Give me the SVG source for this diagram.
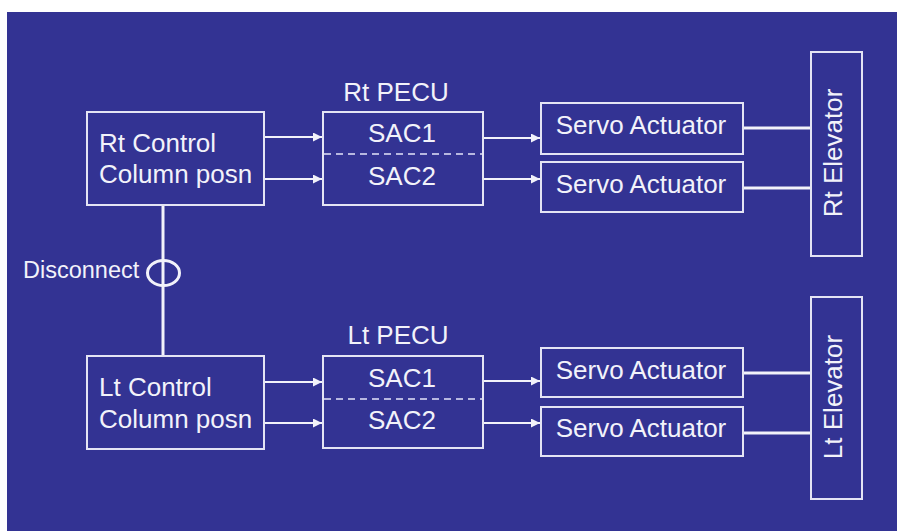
<svg xmlns="http://www.w3.org/2000/svg" width="897" height="531" viewBox="0 0 897 531">
<defs>
<style>
.box{fill:none;stroke:#e4e4f4;stroke-width:2}
.t{font-family:"Liberation Sans",Arial,sans-serif;font-size:26px;fill:#f2f2fa}
.tm{text-anchor:middle}
.ar{stroke:#f2f2fa;stroke-width:2;fill:none}
.lk{stroke:#f2f2fa;stroke-width:3;fill:none}
.dash{stroke:#b8b8e0;stroke-width:2;stroke-dasharray:7 5}
</style>
<marker id="ah" viewBox="0 0 10 10" refX="10" refY="5" markerWidth="9" markerHeight="9" markerUnits="userSpaceOnUse" orient="auto">
<path d="M0,0 L10,5 L0,10 Z" fill="#f2f2fa"/>
</marker>
</defs>
<rect x="0" y="0" width="897" height="531" fill="#ffffff"/>
<rect x="7" y="12" width="890" height="519" fill="#333393"/>

<g id="connectors">
<line class="ar" x1="264" y1="137" x2="322" y2="137" marker-end="url(#ah)"/>
<line class="ar" x1="264" y1="179" x2="322" y2="179" marker-end="url(#ah)"/>
<line class="ar" x1="483" y1="138" x2="540" y2="138" marker-end="url(#ah)"/>
<line class="ar" x1="483" y1="179" x2="540" y2="179" marker-end="url(#ah)"/>
<line class="ar" x1="264" y1="382" x2="322" y2="382" marker-end="url(#ah)"/>
<line class="ar" x1="264" y1="423" x2="322" y2="423" marker-end="url(#ah)"/>
<line class="ar" x1="483" y1="381" x2="540" y2="381" marker-end="url(#ah)"/>
<line class="ar" x1="483" y1="423" x2="540" y2="423" marker-end="url(#ah)"/>
<line class="lk" x1="743" y1="128" x2="811" y2="128"/>
<line class="lk" x1="743" y1="188" x2="811" y2="188"/>
<line class="lk" x1="743" y1="373" x2="811" y2="373"/>
<line class="lk" x1="743" y1="433" x2="811" y2="433"/>
<line class="lk" x1="163" y1="205" x2="163" y2="356"/>
</g>

<g id="disconnect">
<ellipse cx="163.5" cy="273" rx="16" ry="12.5" fill="none" stroke="#f2f2fa" stroke-width="3"/>
<text class="t" x="23" y="278" style="font-size:23.5px">Disconnect</text>
</g>

<g id="rt-control">
<rect class="box" x="87" y="112" width="177" height="93"/>
<text class="t" x="99" y="152">Rt Control</text>
<text class="t" x="99" y="183">Column posn</text>
</g>

<g id="lt-control">
<rect class="box" x="87" y="356" width="177" height="93"/>
<text class="t" x="99" y="396">Lt Control</text>
<text class="t" x="99" y="428">Column posn</text>
</g>

<g id="rt-pecu">
<text class="t tm" x="396" y="101">Rt PECU</text>
<rect class="box" x="323" y="112" width="160" height="93"/>
<line class="dash" x1="324" y1="154" x2="482" y2="154"/>
<text class="t tm" x="402" y="142">SAC1</text>
<text class="t tm" x="402" y="185">SAC2</text>
</g>

<g id="lt-pecu">
<text class="t tm" x="398" y="344">Lt PECU</text>
<rect class="box" x="323" y="356" width="160" height="92"/>
<line class="dash" x1="324" y1="399" x2="482" y2="399"/>
<text class="t tm" x="402" y="387">SAC1</text>
<text class="t tm" x="402" y="429">SAC2</text>
</g>

<g id="rt-servo-1">
<rect class="box" x="541" y="103" width="202" height="51"/>
<text class="t tm" x="641" y="134">Servo Actuator</text>
</g>
<g id="rt-servo-2">
<rect class="box" x="541" y="162" width="202" height="50"/>
<text class="t tm" x="641" y="193">Servo Actuator</text>
</g>
<g id="lt-servo-1">
<rect class="box" x="541" y="348" width="202" height="49"/>
<text class="t tm" x="641" y="379">Servo Actuator</text>
</g>
<g id="lt-servo-2">
<rect class="box" x="541" y="407" width="202" height="49"/>
<text class="t tm" x="641" y="437">Servo Actuator</text>
</g>

<g id="rt-elevator">
<rect class="box" x="811" y="52" width="51" height="204"/>
<text class="t tm" transform="translate(842,153) rotate(-90)">Rt Elevator</text>
</g>
<g id="lt-elevator">
<rect class="box" x="811" y="297" width="51" height="202"/>
<text class="t tm" transform="translate(842,397) rotate(-90)">Lt Elevator</text>
</g>
</svg>
